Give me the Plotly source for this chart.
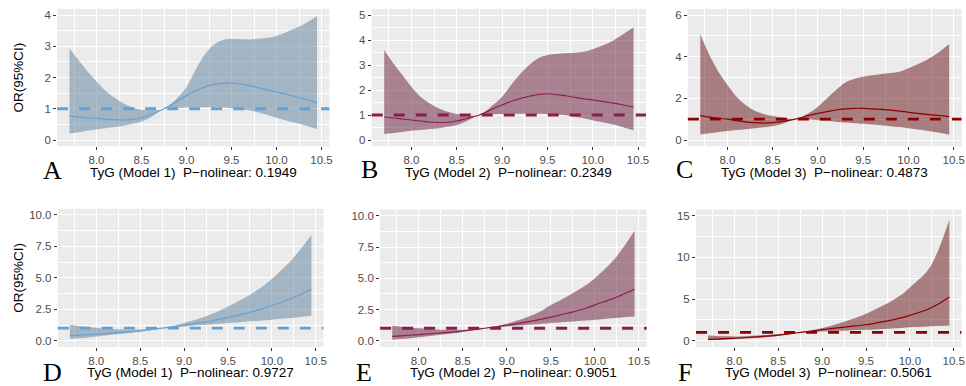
import plotly.graph_objects as go

# ---------------- data ----------------
TYG_X = [7.7, 7.8, 7.9, 8.0, 8.1, 8.2, 8.3, 8.4, 8.5, 8.6, 8.75, 8.9, 9.0, 9.1,
         9.2, 9.3, 9.4, 9.5, 9.7, 9.9, 10.0, 10.2, 10.3, 10.45]

A_UPP = [2.93, 2.56, 2.19, 1.87, 1.58, 1.35, 1.17, 1.05, 0.97, 0.95, 1.0, 1.35, 1.7, 2.24,
         2.72, 3.04, 3.2, 3.23, 3.22, 3.27, 3.33, 3.57, 3.7, 3.97]
A_LOW = [0.21, 0.25, 0.3, 0.34, 0.38, 0.42, 0.46, 0.52, 0.59, 0.72, 1.0, 1.03, 1.04, 1.05,
         1.05, 1.05, 1.04, 1.02, 0.95, 0.8, 0.71, 0.55, 0.48, 0.35]
A_FIT = [0.77, 0.74, 0.71, 0.69, 0.67, 0.65, 0.64, 0.66, 0.72, 0.81, 1.0, 1.25, 1.42, 1.57,
         1.69, 1.77, 1.81, 1.82, 1.74, 1.6, 1.54, 1.4, 1.32, 1.19]

B_UPP = [3.6, 3.07, 2.6, 2.13, 1.73, 1.47, 1.27, 1.13, 1.04, 1.0, 1.0, 1.4, 1.73, 2.2,
         2.64, 3.0, 3.27, 3.4, 3.47, 3.53, 3.63, 3.93, 4.15, 4.51]
B_LOW = [0.24, 0.28, 0.32, 0.37, 0.4, 0.44, 0.47, 0.53, 0.6, 0.74, 1.0, 1.03, 1.04, 1.05,
         1.05, 1.05, 1.05, 1.04, 0.99, 0.87, 0.79, 0.64, 0.55, 0.38]
B_FIT = [0.93, 0.88, 0.84, 0.8, 0.76, 0.72, 0.7, 0.71, 0.76, 0.85, 1.0, 1.25, 1.4, 1.54,
         1.66, 1.75, 1.82, 1.85, 1.77, 1.65, 1.6, 1.49, 1.43, 1.31]

C_UPP = [5.07, 4.08, 3.28, 2.64, 2.08, 1.68, 1.41, 1.25, 1.15, 1.09, 1.0, 1.3, 1.6, 2.0,
         2.4, 2.75, 2.93, 3.04, 3.17, 3.28, 3.44, 3.84, 4.1, 4.61]
C_LOW = [0.27, 0.32, 0.38, 0.43, 0.48, 0.52, 0.56, 0.61, 0.67, 0.77, 1.0, 0.98, 0.95, 0.92,
         0.88, 0.84, 0.81, 0.78, 0.71, 0.62, 0.56, 0.45, 0.38, 0.25]
C_FIT = [1.17, 1.1, 1.05, 1.0, 0.93, 0.87, 0.83, 0.81, 0.83, 0.88, 1.0, 1.18, 1.28, 1.36,
         1.44, 1.49, 1.52, 1.52, 1.47, 1.39, 1.33, 1.23, 1.19, 1.12]

D_UPP = [1.27, 1.18, 1.1, 1.03, 0.97, 0.93, 0.9, 0.89, 0.9, 0.93, 1.0, 1.22, 1.4, 1.6,
         1.83, 2.08, 2.38, 2.72, 3.45, 4.35, 4.92, 6.25, 7.05, 8.41]
D_LOW = [0.13, 0.19, 0.26, 0.34, 0.41, 0.49, 0.56, 0.64, 0.71, 0.81, 1.0, 1.09, 1.14, 1.19,
         1.24, 1.29, 1.34, 1.4, 1.51, 1.61, 1.67, 1.8, 1.87, 1.98]
D_FIT = [0.4, 0.44, 0.48, 0.53, 0.57, 0.62, 0.68, 0.73, 0.79, 0.87, 1.0, 1.13, 1.23, 1.33,
         1.45, 1.57, 1.71, 1.85, 2.17, 2.55, 2.78, 3.3, 3.6, 4.1]

E_UPP = [1.2, 1.12, 1.05, 0.99, 0.94, 0.9, 0.88, 0.87, 0.88, 0.92, 1.0, 1.2, 1.36, 1.57,
         1.8, 2.07, 2.42, 2.85, 3.6, 4.45, 5.0, 6.35, 7.25, 8.8]
E_LOW = [0.08, 0.13, 0.2, 0.27, 0.35, 0.43, 0.51, 0.6, 0.7, 0.81, 1.0, 1.09, 1.14, 1.19,
         1.24, 1.29, 1.35, 1.41, 1.52, 1.62, 1.68, 1.8, 1.86, 1.94]
E_FIT = [0.35, 0.39, 0.44, 0.49, 0.54, 0.6, 0.65, 0.71, 0.78, 0.86, 1.0, 1.14, 1.24, 1.35,
         1.47, 1.6, 1.74, 1.89, 2.22, 2.6, 2.87, 3.35, 3.65, 4.12]

F_UPP = [0.64, 0.58, 0.54, 0.52, 0.55, 0.6, 0.66, 0.72, 0.8, 0.88, 1.0, 1.3, 1.52, 1.8,
         2.1, 2.45, 2.82, 3.24, 4.25, 5.5, 6.4, 8.4, 10.3, 14.5]
F_LOW = [0.05, 0.08, 0.12, 0.18, 0.24, 0.3, 0.37, 0.46, 0.57, 0.72, 1.0, 1.08, 1.12, 1.16,
         1.2, 1.24, 1.28, 1.32, 1.42, 1.54, 1.62, 1.72, 1.77, 1.84]
F_FIT = [0.17, 0.2, 0.25, 0.3, 0.36, 0.43, 0.5, 0.58, 0.68, 0.8, 1.0, 1.2, 1.33, 1.45,
         1.57, 1.69, 1.8, 1.92, 2.3, 2.75, 3.05, 3.75, 4.25, 5.24]

PANEL_LETTERS = ["A", "B", "C", "D", "E", "F"]
X_TITLES = ["TyG (Model 1)  P\u2212nolinear: 0.1949",
            "TyG (Model 2)  P\u2212nolinear: 0.2349",
            "TyG (Model 3)  P\u2212nolinear: 0.4873",
            "TyG (Model 1)  P\u2212nolinear: 0.9727",
            "TyG (Model 2)  P\u2212nolinear: 0.9051",
            "TyG (Model 3)  P\u2212nolinear: 0.5061"]
Y_TITLE = "OR(95%CI)"
REF_OR = 1
Y_LIMITS = [4, 5, 6, 10, 10, 15]
Y_DTICK = [1, 1, 2, 2.5, 2.5, 5]

# ---------------- layout geometry (pixels) ----------------
W, H = 966, 386
PANELS = [
    # x0, x1, y0(top), y1(bottom)
    (57.3, 330.4, 8.75, 146.25),
    (372.9, 648.0, 8.75, 146.25),
    (690.0, 964.6, 8.75, 146.25),
    (58.0, 324.5, 208.7, 347.0),
    (381.3, 648.7, 209.5, 347.0),
    (698.2, 964.4, 209.5, 347.0),
]
LETTER_POS = [(53, 170.5), (371, 169.5), (686.7, 169.5), (53, 372), (365, 372), (687.5, 372)]
XTITLE_Y = [172.5, 172.5, 172.5, 372.7, 372.7, 372.7]

BLUE = dict(line="#62A2D6", fill="rgba(92,125,153,0.5)")
PLUM = dict(line="#8C1C4F", fill="rgba(99,24,54,0.5)")
DRED = dict(line="#8E0000", fill="rgba(99,16,20,0.5)")
STYLES = [BLUE, PLUM, DRED, BLUE, PLUM, DRED]

SERIES = [(A_LOW, A_UPP, A_FIT), (B_LOW, B_UPP, B_FIT), (C_LOW, C_UPP, C_FIT),
          (D_LOW, D_UPP, D_FIT), (E_LOW, E_UPP, E_FIT), (F_LOW, F_UPP, F_FIT)]

fig = go.Figure()
layout = dict(
    width=W, height=H, margin=dict(l=0, r=0, t=0, b=0),
    paper_bgcolor="white", plot_bgcolor="#EBEBEB", showlegend=False,
    font=dict(family="Liberation Sans, Arial, sans-serif", color="#4D4D4D", size=11.5),
)
annotations = []
shapes = []

xmin, xmax = min(TYG_X), max(TYG_X)
xpad = 0.05 * (xmax - xmin)

for i, (low, upp, fit) in enumerate(SERIES):
    n = i + 1
    xa = "x" if n == 1 else f"x{n}"
    ya = "y" if n == 1 else f"y{n}"
    st = STYLES[i]
    x0, x1, yt, yb = PANELS[i]
    fig.add_trace(go.Scatter(x=TYG_X, y=low, xaxis=xa, yaxis=ya, mode="lines",
                             line=dict(width=0, shape="spline", smoothing=1.0),
                             hoverinfo="skip"))
    fig.add_trace(go.Scatter(x=TYG_X, y=upp, xaxis=xa, yaxis=ya, mode="lines",
                             line=dict(width=0, shape="spline", smoothing=1.0),
                             fill="tonexty", fillcolor=st["fill"], hoverinfo="skip"))
    fig.add_trace(go.Scatter(x=TYG_X, y=fit, xaxis=xa, yaxis=ya, mode="lines",
                             line=dict(width=1.2, color=st["line"], shape="spline", smoothing=1.0),
                             hoverinfo="skip"))
    shapes.append(dict(type="line", xref=f"{xa} domain", yref=ya, x0=0, x1=1,
                       y0=REF_OR, y1=REF_OR, layer="above",
                       line=dict(color=st["line"], width=2.8, dash="11px,11px")))

    ylim = Y_LIMITS[i]
    ypad = 0.05 * ylim
    dt = Y_DTICK[i]
    ax_common = dict(showline=False, zeroline=False, ticks="outside", ticklen=3,
                     tickwidth=0.8, tickcolor="#333333", gridcolor="white", gridwidth=1.1,
                     tickfont=dict(size=11.5, color="#4D4D4D"))
    layout["xaxis" if n == 1 else f"xaxis{n}"] = dict(
        domain=[x0 / W, x1 / W], anchor=ya, range=[xmin - xpad, xmax + xpad],
        tickmode="linear", tick0=8, dtick=0.5, tickformat=".1f",
        minor=dict(tick0=8, dtick=0.25, showgrid=True, gridcolor="white", gridwidth=0.5, ticks=""),
        **ax_common)
    layout["yaxis" if n == 1 else f"yaxis{n}"] = dict(
        domain=[1 - yb / H, 1 - yt / H], anchor=xa, range=[-ypad, ylim + ypad],
        tickmode="linear", tick0=0, dtick=dt,
        tickformat=".1f" if dt == 2.5 else "d",
        minor=dict(tick0=0, dtick=dt / 2, showgrid=True, gridcolor="white", gridwidth=0.5, ticks=""),
        **ax_common)

    # x-axis title
    annotations.append(dict(text=X_TITLES[i], xref="paper", yref="paper",
                            x=(x0 + x1) / 2 / W, y=1 - XTITLE_Y[i] / H,
                            xanchor="center", yanchor="middle", showarrow=False,
                            font=dict(size=13.5, color="black")))
    # panel letter
    lx, ly = LETTER_POS[i]
    annotations.append(dict(text=PANEL_LETTERS[i], xref="paper", yref="paper",
                            x=lx / W, y=1 - ly / H, xanchor="center", yanchor="middle",
                            showarrow=False,
                            font=dict(size=26, color="black",
                                      family="Liberation Serif, Times New Roman, serif")))
    if i in (0, 3):
        annotations.append(dict(text=Y_TITLE, xref="paper", yref="paper",
                                x=19 / W, y=1 - (yt + yb) / 2 / H, textangle=-90,
                                xanchor="center", yanchor="middle", showarrow=False,
                                font=dict(size=13.5, color="black")))

layout["annotations"] = annotations
layout["shapes"] = shapes
fig.update_layout(**layout)
fig.write_html("out.html")
